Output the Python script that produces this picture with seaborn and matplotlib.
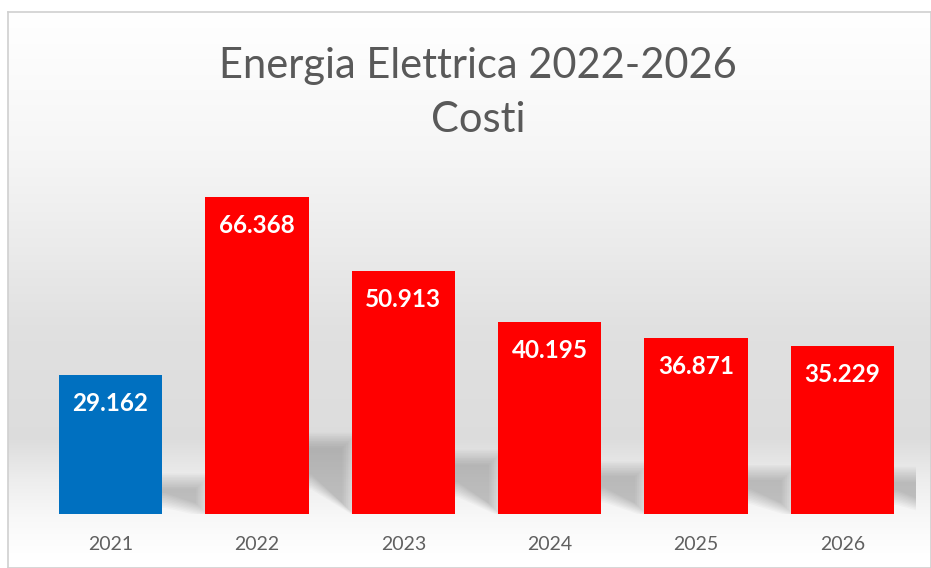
import numpy as np
import pandas as pd
import matplotlib
matplotlib.use("Agg")
import matplotlib.pyplot as plt
from matplotlib.patches import Polygon
import seaborn as sns

# =========================
# DATA
# =========================
anni = ["2021", "2022", "2023", "2024", "2025", "2026"]
costi = [29162, 66368, 50913, 40195, 36871, 35229]
colori = ["#0070C0", "#FF0000", "#FF0000", "#FF0000", "#FF0000", "#FF0000"]

titolo = "Energia Elettrica 2022-2026"
sottotitolo = "Costi"

df = pd.DataFrame({"anno": anni, "costo": costi})

sns.set_theme(style="white")
plt.rcParams["font.family"] = ["Lato", "DejaVu Sans"]

W, H = 931, 568
fig = plt.figure(figsize=(W / 100, H / 100), dpi=100)
fig.patch.set_facecolor("white")

# =========================
# background gradient (chart frame)
# =========================
bg = fig.add_axes([8 / W, 0, 1 - 8 / W, (H - 12) / H], zorder=0)
ys = np.linspace(12, H, 300)
shade = np.interp(ys, [12, 150, 250, 330, 440, 480, 520, 560],
                  [1.0, 0.965, 0.92, 0.88, 0.865, 0.93, 0.975, 1.0])
img = np.repeat(shade[:, None], 10, axis=1)
bg.imshow(np.dstack([img, img, img]), aspect="auto", extent=[0, 1, 0, 1])
bg.set_xticks([])
bg.set_yticks([])
for s in bg.spines.values():
    s.set_color("#d0d0d0")
    s.set_linewidth(1.2)

# =========================
# bars
# =========================
ax_left = 37.3 / W
ax_w = 878.4 / W
ax_bottom = (H - 514) / H
ax_top = (H - 179.4) / H
ax = fig.add_axes([ax_left, ax_bottom, ax_w, ax_top - ax_bottom], zorder=1)
ax.patch.set_alpha(0)

sns.barplot(data=df, x="anno", y="costo", hue="anno", palette=colori,
            legend=False, width=0.705, saturation=1, linewidth=0,
            edgecolor="none", ax=ax, zorder=3)
ax.set_xlim(-0.5, len(anni) - 0.5)
ax.set_ylim(0, 70000)

# soft perspective shadows behind bars
bars = list(ax.patches[:len(costi)])
for p in bars:
    L = p.get_x()
    R = L + p.get_width()
    hs = 0.23 * p.get_height()
    d = 0.28
    for k in range(10):
        g = (k - 5) * 0.012
        gy = (k - 5) * 350
        sh = Polygon([(L + 0.1, hs - gy), (R + d - g, hs - gy),
                      (R + d - g, 800 + gy), (R + 0.02, hs * 0.45 + gy),
                      (L, hs * 0.45 + gy)],
                     closed=True, facecolor="#505050", alpha=0.035,
                     edgecolor="none", zorder=2)
        ax.add_patch(sh)

# value labels inside bars
for p, v in zip(bars, costi):
    ax.annotate(f"{v:,}".replace(",", "."),
                (p.get_x() + p.get_width() / 2, p.get_height()),
                xytext=(0, -29), textcoords="offset pixels",
                ha="center", va="center", color="white",
                fontsize=17.5, fontweight="bold", zorder=4)

ax.set_xlabel("")
ax.set_ylabel("")
ax.set_yticks([])
ax.tick_params(axis="x", length=0, pad=16, labelsize=14, labelcolor="#606060")
sns.despine(ax=ax, left=True, bottom=True)

# =========================
# title
# =========================
fig.text(478 / W, 1 - 78 / H, titolo, ha="center", va="baseline",
         fontsize=30, color="#595959")
fig.text(478 / W, 1 - 132 / H, sottotitolo, ha="center", va="baseline",
         fontsize=30, color="#595959")

fig.savefig("out.png", dpi=100)
plt.close(fig)
